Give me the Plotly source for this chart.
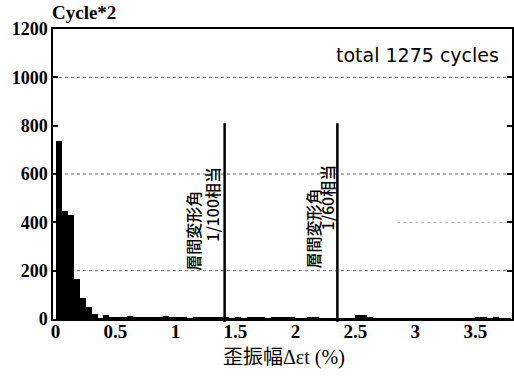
import plotly.graph_objects as go

# Strain-amplitude histogram: bins of 0.05 % starting at 0
bin_width = 0.05
counts = [
    735, 447, 432, 165, 88, 50, 22, 3,
    17, 10, 9, 9, 13, 6, 6, 5, 6, 6, 13, 7, 7,
    5, 4, 6, 5, 10, 10, 6, 5,
    4, 5, 4, 6, 9, 9, 4, 5,
    8, 7, 8, 4, 3, 7, 7,
    2, 2, 3, 2, 2, 3, 15, 15, 8,
    3, 2, 2, 3, 2, 2, 3, 2, 2, 2, 3, 2, 2, 3, 2, 3, 2,
    5, 5, 4, 5, 3, 2,
]
bin_centers = [bin_width * (i + 0.5) for i in range(len(counts))]

# Reference drift-angle strains
ref_strains = [1.41, 2.35]
ref_line_top = 810
ref_labels = [("層間変形角", "1/100相当"), ("層間変形角", "1/60相当")]
# label positions (x, y) in data units for each column of text
ref_label_pos = [[(1.144, 364), (1.302, 476)], [(2.150, 376), (2.259, 505)]]

x_tickvals = [0, 0.5, 1, 1.5, 2, 2.5, 3, 3.5]
x_ticktext = ["0", "0.5", "1", "1.5", "2", "2.5", "3", "3.5"]
y_tickvals = [0, 200, 400, 600, 800, 1000, 1200]

grid_dark = [1000, 600, 200]
grid_faint = [400]

total_text = "total 1275 cycles"
y_unit = "Cycle*2"
x_title = "歪振幅Δεt (%)"

serif = "Liberation Serif, Noto Sans CJK JP"

fig = go.Figure()
fig.add_trace(go.Bar(
    x=bin_centers, y=counts, width=bin_width,
    marker=dict(color="black", line=dict(width=0)),
    showlegend=False,
))

shapes = []
for g in grid_dark:
    shapes.append(dict(type="line", xref="paper", yref="y", x0=0, x1=1, y0=g, y1=g,
                       line=dict(color="#666", width=1, dash="dot"), layer="below"))
for g in grid_faint:
    shapes.append(dict(type="line", xref="paper", yref="y", x0=0.75, x1=1, y0=g, y1=g,
                       line=dict(color="#aaa", width=1, dash="dot"), layer="below"))
for s in ref_strains:
    shapes.append(dict(type="line", xref="x", yref="paper", x0=s, x1=s,
                       y0=-0.01, y1=ref_line_top / 1200,
                       line=dict(color="black", width=2.5), layer="above"))

annotations = []
for (l1, l2), pos in zip(ref_labels, ref_label_pos):
    for txt, (ax, ay) in zip((l1, l2), pos):
        annotations.append(dict(
            x=ax, y=ay, xref="x", yref="y", text=txt, showarrow=False,
            textangle=-90, xanchor="center", yanchor="middle",
            font=dict(family="Noto Sans CJK JP", size=16, color="black", weight=500),
        ))

annotations.append(dict(
    xref="paper", yref="paper", x=(503 - 53) / 461, y=1 - (55 - 29) / 290,
    xanchor="right", yanchor="middle", text=total_text, showarrow=False,
    font=dict(family="DejaVu Sans", size=19, color="black"),
))
annotations.append(dict(
    xref="paper", yref="paper", x=-0.007, y=1 + (29 - 12) / 290,
    xanchor="left", yanchor="middle", text=y_unit, showarrow=False,
    font=dict(family="Liberation Serif", size=19, color="black", weight=600),
))
annotations.append(dict(
    xref="paper", yref="paper", x=(285 - 53) / 461, y=-(357 - 319) / 290,
    xanchor="center", yanchor="middle", text=x_title, showarrow=False,
    font=dict(family=serif, size=20, color="black"),
))

fig.update_layout(
    width=514, height=380,
    margin=dict(l=53, r=0, t=29, b=61),
    paper_bgcolor="white", plot_bgcolor="white",
    bargap=0,
    shapes=shapes,
    annotations=annotations,
    xaxis=dict(
        range=[-0.021, 3.806], tickvals=x_tickvals, ticktext=x_ticktext,
        showgrid=False, zeroline=False, showline=True, linecolor="black", linewidth=1.5,
        mirror=True, ticks="", ticklabelstandoff=-6,
        tickfont=dict(family=serif, size=19, color="black", weight="bold"),
    ),
    yaxis=dict(
        range=[0, 1200], tickvals=y_tickvals,
        showgrid=False, zeroline=False, showline=True, linecolor="black", linewidth=1.5,
        mirror="ticks", ticks="inside", ticklen=5, tickcolor="black", tickwidth=1.5,
        tickfont=dict(family=serif, size=18, color="black", weight="bold"),
    ),
)

fig.write_html("out.html")
